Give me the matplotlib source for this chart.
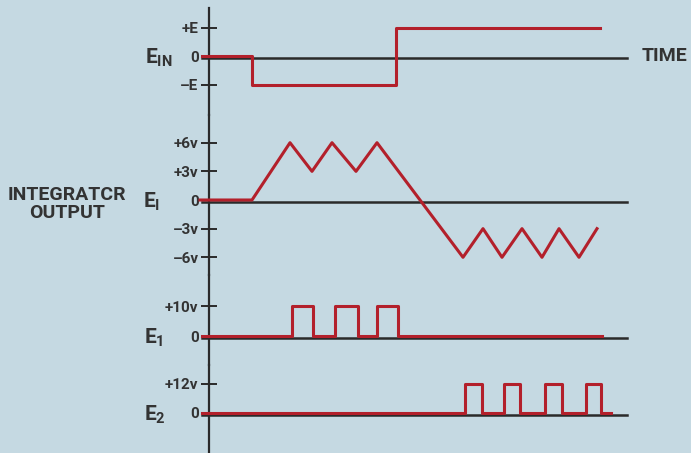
import matplotlib.pyplot as plt
from matplotlib import transforms

# --- data (time in arbitrary units, 0 at the vertical axis) ---
t_in = [-0.7, 4.3, 4.3, 18.7, 18.7, 39.1]
e_in = [0, 0, -1, -1, 1, 1]

t_int = [-0.9, 4.3, 8.1, 10.3, 12.3, 14.7, 16.8, 25.4, 27.4, 29.3, 31.3, 33.3, 35.0, 37.0, 38.8]
e_int = [0, 0, 6, 3, 6, 3, 6, -6, -3, -6, -3, -6, -3, -6, -3]

e1_rise = [8.3, 12.6, 16.8]
e1_fall = [10.4, 14.9, 18.9]
e1_level = 10
e1_end = 39.3

e2_rise = [25.6, 29.5, 33.6, 37.7]
e2_fall = [27.3, 31.1, 35.3, 39.2]
e2_level = 12
e2_end = 40.2

t_start = -0.7
t_base_end = 41.8

in_ticks = [1, 0, -1]
in_labels = ['+E', '0', '–E']
int_ticks = [6, 3, 0, -3, -6]
int_labels = ['+6v', '+3v', '0', '–3v', '–6v']
e1_ticks = [10, 0]
e1_labels = ['+10v', '0']
e2_ticks = [12, 0]
e2_labels = ['+12v', '0']

BG = '#c5d9e2'
RED = '#b3202b'
INK = '#2a2a2a'
TXT = '#333333'

plt.rcParams['font.family'] = ['Roboto', 'DejaVu Sans']
plt.rcParams['font.weight'] = 'bold'
plt.rcParams['mathtext.fontset'] = 'custom'
plt.rcParams['mathtext.bf'] = 'Roboto:bold'
plt.rcParams['mathtext.rm'] = 'Roboto:bold'


def pulse_train(start, rises, falls, end, level):
    t, v = [start], [0]
    for r, f in zip(rises, falls):
        t += [r, r, f, f]
        v += [0, level, level, 0]
    t.append(end)
    v.append(0)
    return t, v


W, H = 691, 453
fig = plt.figure(figsize=(W / 100, H / 100), dpi=100, facecolor=BG)
x0 = 209          # vertical axis position, px
px_per_t = 10.0


def panel(top, bottom, zero, px_per_unit):
    ax = fig.add_axes([x0 / W, 1 - bottom / H, (W - x0) / W, (bottom - top) / H])
    ax.set_facecolor('none')
    ax.set_xlim(0, (W - x0) / px_per_t)
    ax.set_ylim(-(bottom - zero) / px_per_unit, (zero - top) / px_per_unit)
    for s in ['top', 'right', 'bottom']:
        ax.spines[s].set_visible(False)
    ax.spines['left'].set_linewidth(1.6)
    ax.spines['left'].set_color(INK)
    ax.spines['left'].set_capstyle('projecting')
    ax.set_xticks([])
    ax.tick_params(axis='y', direction='inout', length=11, width=1.4,
                   color=INK, labelcolor=TXT, labelsize=11, pad=2)
    return ax


def baseline(ax):
    off = transforms.offset_copy(ax.transData, fig=fig, x=0, y=-1.2, units='points')
    ax.plot([t_start, t_base_end], [0, 0], color=INK, lw=1.8,
            transform=off, clip_on=False, zorder=2)


def e_label(ax, text, dx):
    ax.annotate(text, xy=(0, 0), xycoords=('axes fraction', 'data'),
                xytext=(dx, -1), textcoords='offset points',
                ha='right', va='center', fontsize=15, color=TXT)


ax1 = panel(8, 115, 56, 28.5)
baseline(ax1)
ax1.plot(t_in, e_in, color=RED, lw=2.2, clip_on=False, zorder=3)
ax1.set_yticks(in_ticks, in_labels)
e_label(ax1, r'$\mathbf{E_{IN}}$', -26)

ax2 = panel(115, 275, 200, 9.55)
baseline(ax2)
ax2.plot(t_int, e_int, color=RED, lw=2.2, clip_on=False, zorder=3)
ax2.set_yticks(int_ticks, int_labels)
e_label(ax2, r'$\mathbf{E_{I}}$', -35)

ax3 = panel(275, 365, 336, 3.0)
baseline(ax3)
t1, v1 = pulse_train(t_start, e1_rise, e1_fall, e1_end, e1_level)
ax3.plot(t1, v1, color=RED, lw=2.2, clip_on=False, zorder=3)
ax3.set_yticks(e1_ticks, e1_labels)
e_label(ax3, r'$\mathbf{E_{1}}$', -33)

ax4 = panel(365, 453, 413, 2.42)
baseline(ax4)
t2, v2 = pulse_train(t_start, e2_rise, e2_fall, e2_end, e2_level)
ax4.plot(t2, v2, color=RED, lw=2.2, clip_on=False, zorder=3)
ax4.set_yticks(e2_ticks, e2_labels)
e_label(ax4, r'$\mathbf{E_{2}}$', -31)

fig.text(67 / W, 1 - 204 / H, 'INTEGRATCR\nOUTPUT', ha='center', va='center',
         fontsize=14, color=TXT, linespacing=1.05)
fig.text(642 / W, 1 - 56 / H, 'TIME', ha='left', va='center',
         fontsize=14, color=TXT)

fig.savefig('out.png', dpi=100, facecolor=BG)
